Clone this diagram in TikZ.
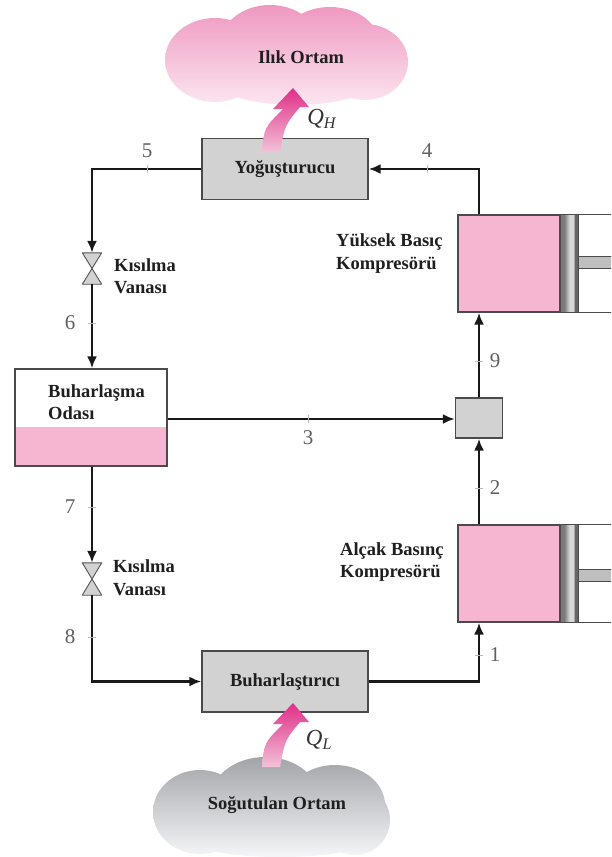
\documentclass[tikz,border=0pt]{standalone}
\usepackage{fontspec}
\setmainfont{Liberation Serif}
\usetikzlibrary{arrows.meta}

\definecolor{pinkfill}{HTML}{F6B6D1}
\definecolor{boxgray}{HTML}{D2D2D2}
\definecolor{edgegray}{HTML}{4A4A4A}
\definecolor{numgray}{HTML}{606060}
\definecolor{warmtop}{HTML}{EE98C0}
\definecolor{warmbot}{HTML}{FCE6F0}
\definecolor{coldtop}{HTML}{A2A4A8}
\definecolor{coldbot}{HTML}{F5F6F8}
\definecolor{heattop}{HTML}{E02E88}
\definecolor{heatbot}{HTML}{F2C2D8}
\definecolor{pistdark}{HTML}{7A7A7A}
\definecolor{pistlight}{HTML}{D8D8D8}
\definecolor{pistedge}{HTML}{666666}

% piston face: dark edges, light band in the middle
\pgfdeclarehorizontalshading{pistonshade}{100bp}{
  color(0bp)=(pistdark); color(35bp)=(pistdark); color(50bp)=(pistlight);
  color(60bp)=(pistlight); color(65bp)=(pistedge); color(100bp)=(pistedge)}

\tikzset{
  pipe/.style={line width=2.5pt, draw=black!90},
  flow/.style={pipe, -{Latex[length=12pt,width=10pt]}},
  txt/.style={font=\fontsize{18.5}{22.5}\selectfont\bfseries, text=black!88},
  unit/.style={txt, draw=edgegray, line width=1.4pt, fill=boxgray,
    minimum width=166pt, minimum height=61pt, inner sep=0pt},
  lbl/.style={txt, align=left, inner sep=0pt, anchor=west},
  num/.style={font=\fontsize{21}{24}\selectfont, text=numgray, inner sep=0pt},
  tickmark/.style={draw=gray!55, line width=0.9pt},
  comp/.style={draw=edgegray, line width=1.2pt, fill=pinkfill,
    minimum width=102pt, minimum height=97pt, inner sep=0pt},
  valve/.style={minimum width=19pt, minimum height=31pt, inner sep=0pt},
  valvebody/.style={fill=gray!35, draw=gray!65!black, line width=0.9pt, line join=round},
  cylwall/.style={draw=gray!60!black, line width=1.1pt},
  heat/.pic={
    \shade[top color=heattop, bottom color=heatbot]
      (-31,64) .. controls (-29,40) .. (-10,21) -- (-20,21) -- (0,0)
      -- (16,19) -- (7,19) .. controls (-8,37) .. (-13,64) -- cycle;
  }
}

\begin{document}
\begin{tikzpicture}[x=1pt,y=-1pt]
\useasboundingbox (0,0) rectangle (611,857);
\clip (0,0) rectangle (611,857);
\fill[white] (0,0) rectangle (611,857);

% warm surroundings (top cloud)
\shade[top color=warmtop, bottom color=warmbot]
  (215,60) ellipse [x radius=50, y radius=42]
  (270,45) ellipse [x radius=50, y radius=40]
  (330,45) ellipse [x radius=50, y radius=38]
  (365,62) ellipse [x radius=43, y radius=38]
  (295,80) ellipse [x radius=80, y radius=25];
\node[txt] (warm) at (301,57) {Ilık Ortam};

% cooled space (bottom cloud)
\shade[top color=coldtop, bottom color=coldbot]
  (200,812) ellipse [x radius=47, y radius=42]
  (265,800) ellipse [x radius=55, y radius=43]
  (335,805) ellipse [x radius=50, y radius=40]
  (355,820) ellipse [x radius=35, y radius=35]
  (280,835) ellipse [x radius=100, y radius=22];
\node[txt] (cold) at (277,805) {Soğutulan Ortam};

% heat exchangers
\node[unit] (cond) at (285,169) {Yoğuşturucu};
\node[unit] (evap) at (285,681.5) {Buharlaştırıcı};

% flash chamber with liquid at the bottom
\node[draw=edgegray, line width=1.4pt, fill=white, minimum width=152pt,
  minimum height=97pt, inner sep=0pt,
  path picture={\fill[pinkfill] (path picture bounding box.south west)
    rectangle ([yshift=39pt]path picture bounding box.south east);}]
  (flash) at (91,417.5) {};
\node[lbl] (flashlbl) at (48,402) {Buharlaşma\\Odası};

% mixing chamber
\node[draw=edgegray, line width=1.4pt, fill=boxgray, minimum width=47pt,
  minimum height=40pt, inner sep=0pt] (mix) at (479,418) {};

% compressors: pink cylinder space, piston and rod
\node[comp] (hp) at (509,263.5) {};
\node[comp] (lp) at (509,573.5) {};
\foreach \c/\ry in {hp/-1, lp/2} {
  \fill[white] (\c.north east) rectangle ([xshift=80pt]\c.south east);
  \draw[cylwall] (\c.north east) -- ++(80,0);
  \draw[cylwall] (\c.south east) -- ++(80,0);
  \shade[shading=pistonshade]
    (\c.north east) rectangle ([xshift=18pt]\c.south east);
  \draw[cylwall] (\c.north east) rectangle ([xshift=18pt]\c.south east);
  \shade[top color=gray!50, middle color=gray!10, bottom color=gray!50]
    ([xshift=18pt,yshift=-\ry pt+6pt]\c.east) rectangle ([xshift=70pt,yshift=-\ry pt-6pt]\c.east);
  \draw[draw=gray!60!black, line width=0.8pt]
    ([xshift=70pt,yshift=-\ry pt+6pt]\c.east) -- ([xshift=18pt,yshift=-\ry pt+6pt]\c.east)
    -- ([xshift=18pt,yshift=-\ry pt-6pt]\c.east) -- ([xshift=70pt,yshift=-\ry pt-6pt]\c.east);
}
\node[lbl] (hplbl) at (336,253.5) {Yüksek Basıç\\Kompresörü};
\node[lbl] (lplbl) at (340,562) {Alçak Basınç\\Kompresörü};

% expansion valves
\node[valve] (v1) at (92,268.5) {};
\node[valve, minimum height=32pt] (v2) at (92,579) {};
\foreach \v in {v1,v2}
  \filldraw[valvebody] (\v.north west) -- (\v.north east) -- (\v.south west)
    -- (\v.south east) -- cycle;
\node[lbl] (v1lbl) at (114,276) {Kısılma\\Vanası};
\node[lbl] (v2lbl) at (113,577.5) {Kısılma\\Vanası};

% refrigerant lines
\draw[flow] (mix |- hp.north) |- (cond.east);
\draw[flow] (cond.west) -| (v1.north);
\draw[flow] (v1.south) -- (v1 |- flash.north);
\draw[flow] (flash.east |- 0,419) -- (mix.west |- 0,419);
\draw[flow] (mix.north) -- (mix |- hp.south);
\draw[flow] (mix |- lp.north) -- (mix.south);
\draw[flow] (v2 |- flash.south) -- (v2.north);
\draw[flow] (v2.south) |- (evap.west);
\draw[flow] (evap.east) -| (mix |- lp.south);

% state points
\draw[tickmark] (427,165) -- (427,173);
\draw[tickmark] (147,165) -- (147,173);
\draw[tickmark] (88,323) -- (96,323);
\draw[tickmark] (88,507) -- (96,507);
\draw[tickmark] (88,637) -- (96,637);
\draw[tickmark] (308,415) -- (308,423);
\draw[tickmark] (475,361) -- (483,361);
\draw[tickmark] (475,488) -- (483,488);
\draw[tickmark] (475,655) -- (483,655);
\node[num] (n4) at (427,151) {4};
\node[num] (n5) at (147,151) {5};
\node[num] (n6) at (70,323) {6};
\node[num] (n7) at (70,507) {7};
\node[num] (n8) at (70,637) {8};
\node[num] (n3) at (308,438) {3};
\node[num] (n9) at (495,361) {9};
\node[num] (n2) at (495,488) {2};
\node[num] (n1) at (495,655) {1};

% heat flows
\pic (qh) at (293,88) {heat};
\pic (ql) at (293,703) {heat};
\node[font=\fontsize{23}{25}\selectfont, text=black!80] (qhlbl) at (322,119)
  {\textit{Q}\textsubscript{\textit{H}}};
\node[font=\fontsize{23}{25}\selectfont, text=black!80] (qllbl) at (319,740)
  {\textit{Q}\textsubscript{\textit{L}}};
\end{tikzpicture}
\end{document}
